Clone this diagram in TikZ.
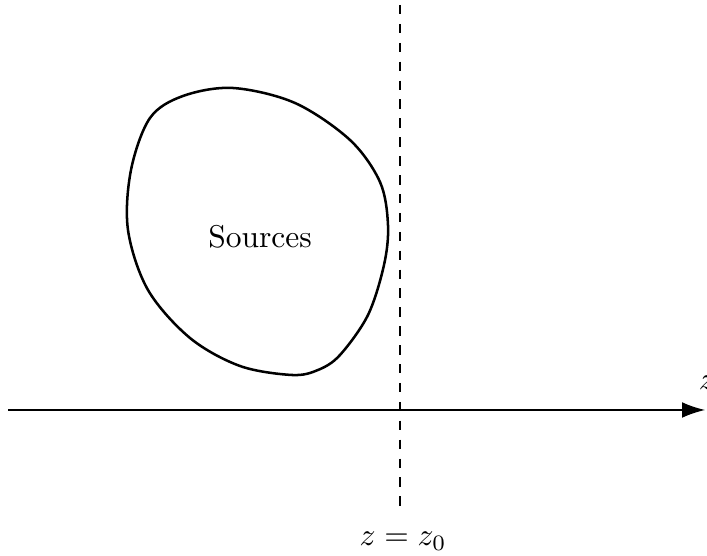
\documentclass[tikz,border=0pt]{standalone}
\usetikzlibrary{arrows.meta}
\begin{document}
\begin{tikzpicture}[x=0.3175pt,y=-0.3175pt,
  blob/.style={line width=0.8pt},
  axisline/.style={line width=0.4pt,-{Latex[length=7.3pt,width=5pt]}},
  planeline/.style={line width=0.4pt,dashed}]
\useasboundingbox (0,0) rectangle (707,556);
\draw[blob] plot[smooth cycle,tension=0.55] coordinates {
 (233,88) (295,103) (350,140) (380,182) (388,225) (384,265)
 (368,315) (340,355) (318,370) (292,375) (240,366) (190,338) (148,290)
 (128,230) (131,170) (150,118) (183,96)};
\node (src) at (260,237) {Sources};
\coordinate (a0) at (8,410);
\coordinate (a1) at (705,410);
\draw[axisline] (a0) -- (a1);
\node (zl) at (707,383) {$z$};
\coordinate (p0) at (400,5);
\coordinate (p1) at (400,515);
\draw[planeline] (p0) -- (p1);
\node (zz) at (403,541) {$z = z_0$};
\end{tikzpicture}
\end{document}
